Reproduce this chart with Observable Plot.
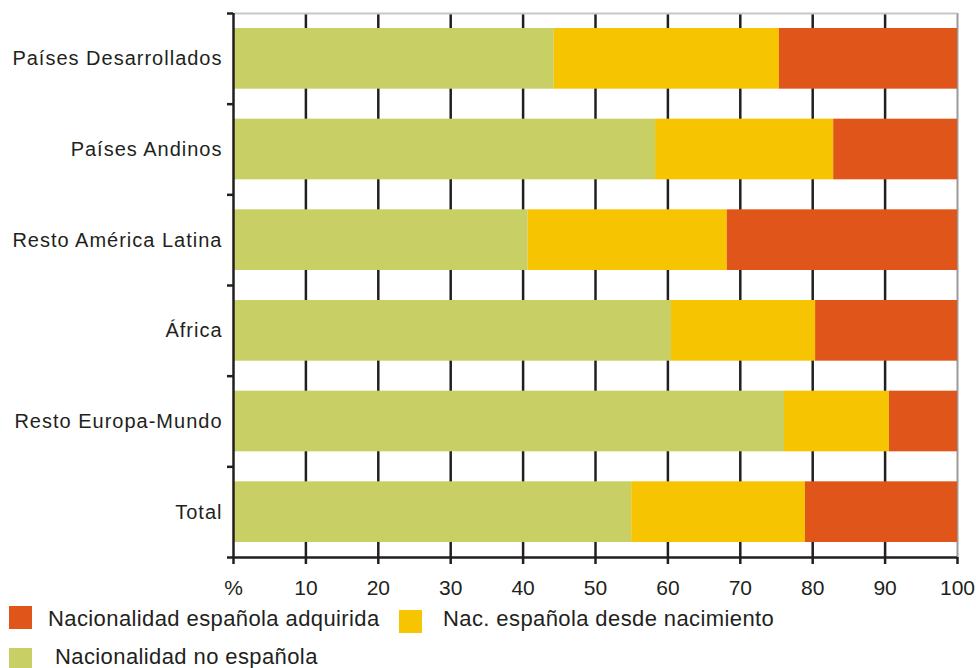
<!DOCTYPE html>
<html>
<head>
<meta charset="utf-8">
<script src="https://cdn.jsdelivr.net/npm/d3@7"></script>
<script src="https://cdn.jsdelivr.net/npm/@observablehq/plot@0.6"></script>
<style>
  html, body { margin: 0; padding: 0; background: #fff; }
  #wrap { position: relative; width: 976px; height: 668px; overflow: hidden; font-family: "Liberation Sans", Arial, sans-serif; color: #231f20; }
  .leg { position: absolute; font-size: 22px; letter-spacing: 0.4px; white-space: nowrap; line-height: 26px; }
  .sw { position: absolute; width: 23px; height: 23px; }
  .ylab text { letter-spacing: 1px; }
</style>
</head>
<body>
<div id="wrap">
  <div id="chart"></div>
  <div class="sw" style="left:9px;top:606px;background:#E0561A"></div>
  <div class="leg" style="left:48px;top:606px">Nacionalidad española adquirida</div>
  <div class="sw" style="left:399px;top:610px;background:#F6C400"></div>
  <div class="leg" style="left:443px;top:606px">Nac. española desde nacimiento</div>
  <div class="sw" style="left:9px;top:648px;background:#C8CF64"></div>
  <div class="leg" style="left:55px;top:644px">Nacionalidad no española</div>
</div>
<script>
const categories = ["Países Desarrollados", "Países Andinos", "Resto América Latina", "África", "Resto Europa-Mundo", "Total"];
const seriesNames = ["Nacionalidad no española", "Nac. española desde nacimiento", "Nacionalidad española adquirida"];
const seriesColors = ["#C8CF64", "#F6C400", "#E0561A"];
const noEspanola = [44.3, 58.3, 40.7, 60.5, 76.1, 55.0];
const desdeNacimiento = [31.1, 24.6, 27.5, 19.9, 14.5, 24.0];
const adquirida = [24.6, 17.1, 31.8, 19.6, 9.4, 21.0];
const xTicks = [0, 10, 20, 30, 40, 50, 60, 70, 80, 90, 100];
const xTickLabels = ["%", "10", "20", "30", "40", "50", "60", "70", "80", "90", "100"];

const seriesValues = [noEspanola, desdeNacimiento, adquirida];
const data = [];
categories.forEach((c, i) => {
  seriesNames.forEach((s, k) => {
    data.push({cat: c, idx: i, series: s, value: seriesValues[k][i]});
  });
});
const boundaries = d3.range(0, categories.length + 1);
const centers = categories.map((c, i) => i + 0.5);

const plot = Plot.plot({
  width: 976,
  height: 600,
  marginTop: 13,
  marginBottom: 43,
  marginLeft: 233,
  marginRight: 19,
  style: {fontFamily: "Liberation Sans, Arial, sans-serif", fontSize: "20px", color: "#231f20", background: "#fff"},
  x: {domain: [0, 100]},
  y: {domain: [0, categories.length], reverse: true},
  color: {domain: seriesNames, range: seriesColors},
  marks: [
    Plot.ruleX(xTicks.filter(d => d > 0 && d < 100), {stroke: "#231f20", strokeWidth: 2.5}),
    Plot.ruleX([100], {stroke: "#9a9a9a", strokeWidth: 2}),
    Plot.ruleY([0], {stroke: "#c8c8c8", strokeWidth: 2}),
    Plot.rectX(data, Plot.stackX({
      x: "value", y: "idx", interval: 1, fill: "series", order: seriesNames,
      insetTop: 15, insetBottom: 15
    })),
    Plot.ruleX([0], {stroke: "#231f20", strokeWidth: 2.5}),
    Plot.ruleY([categories.length], {stroke: "#231f20", strokeWidth: 2.5}),
    Plot.axisX({ticks: xTicks, tickFormat: (d) => xTickLabels[xTicks.indexOf(d)], tickSize: 7, strokeWidth: 2.5, tickPadding: 16, fontSize: 21, label: null, anchor: "bottom"}),
    Plot.axisY({ticks: boundaries, tickFormat: () => "", tickSize: 6, strokeWidth: 2.5, label: null, anchor: "left"}),
    Plot.axisY({ticks: centers, tickFormat: d => categories[Math.floor(d)], tickSize: 0, tickPadding: 11, fontSize: 20, label: null, anchor: "left", className: "ylab"})
  ]
});
document.getElementById("chart").appendChild(plot);
</script>
</body>
</html>
